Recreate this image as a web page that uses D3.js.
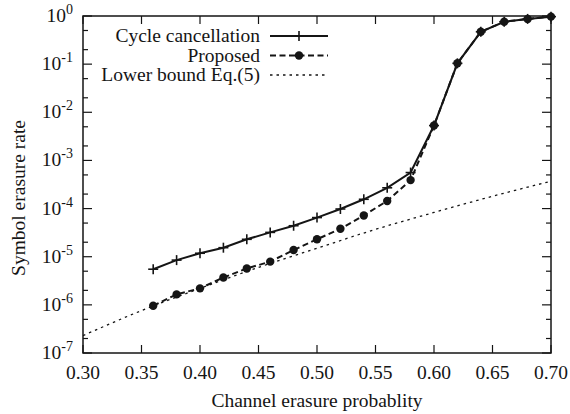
<!DOCTYPE html>
<html><head><meta charset="utf-8">
<script src="https://cdn.jsdelivr.net/npm/d3@7"></script>
<style>body{margin:0;background:#fff}svg{display:block}</style>
</head><body>
<svg id="c" width="570" height="414" font-family="'Liberation Serif', 'DejaVu Serif', serif"></svg>
<script>
const pCycle = [0.36,0.38,0.40,0.42,0.44,0.46,0.48,0.50,0.52,0.54,0.56,0.58,0.60,0.62,0.64,0.66,0.68,0.70];
const cycleVals = [5.5e-6,8.5e-6,1.18e-5,1.54e-5,2.3e-5,3.2e-5,4.4e-5,6.5e-5,9.8e-5,1.56e-4,2.7e-4,5.6e-4,5.3e-3,0.104,0.47,0.76,0.87,0.97];
const pProposed = [0.36,0.38,0.40,0.42,0.44,0.46,0.48,0.50,0.52,0.54,0.56,0.58,0.60,0.62,0.64,0.66,0.68,0.70];
const proposedVals = [9.6e-7,1.65e-6,2.2e-6,3.7e-6,5.7e-6,7.9e-6,1.38e-5,2.3e-5,3.8e-5,7.2e-5,1.44e-4,3.9e-4,5.3e-3,0.104,0.47,0.76,0.87,0.97];
const pBound = [0.30,0.35,0.40,0.45,0.50,0.55,0.60,0.65,0.70];
const boundVals = [2.3e-7,7.6e-7,2.2e-6,6.0e-6,1.5e-5,3.7e-5,8.3e-5,1.8e-4,3.7e-4];
const xTicks = [0.30,0.35,0.40,0.45,0.50,0.55,0.60,0.65,0.70];
const yExps = [0,-1,-2,-3,-4,-5,-6,-7];
const legendLabels = ["Cycle cancellation","Proposed","Lower bound Eq.(5)"];

const svg = d3.select("#c");
const L=83, R=551, T=16, B=353;
const x = d3.scaleLinear().domain([0.30,0.70]).range([L,R]);
const y = d3.scaleLog().domain([1e-7,1]).range([B,T]);
const ink = "#151515";
const FS = 19.5;

// ticks
const g = svg.append("g").attr("stroke",ink).attr("stroke-width",1.2);
xTicks.forEach(v=>{
  g.append("line").attr("x1",x(v)).attr("x2",x(v)).attr("y1",B).attr("y2",B-8);
  g.append("line").attr("x1",x(v)).attr("x2",x(v)).attr("y1",T).attr("y2",T+8);
});
yExps.forEach(e=>{
  const v=Math.pow(10,e);
  g.append("line").attr("x1",L).attr("x2",L+9).attr("y1",y(v)).attr("y2",y(v));
  g.append("line").attr("x1",R).attr("x2",R-9).attr("y1",y(v)).attr("y2",y(v));
  if(e<0){[2,5].forEach(m=>{
    const mv=m*v;
    g.append("line").attr("x1",L).attr("x2",L+5).attr("y1",y(mv)).attr("y2",y(mv));
    g.append("line").attr("x1",R).attr("x2",R-5).attr("y1",y(mv)).attr("y2",y(mv));
  });}
});

// tick labels
xTicks.forEach(v=>{
  svg.append("text").attr("x",x(v)).attr("y",379).attr("text-anchor","middle").attr("fill",ink)
    .attr("font-size",FS).text(v.toFixed(2));
});
yExps.forEach(e=>{
  const t=svg.append("text").attr("x",73).attr("y",y(Math.pow(10,e))+6).attr("text-anchor","end").attr("font-size",FS).attr("fill",ink);
  t.append("tspan").text("10");
  t.append("tspan").attr("font-size",14).attr("dy",-8).text(e===0?"0":"-"+(-e));
});

// axis titles
svg.append("text").attr("x",317).attr("y",407).attr("text-anchor","middle").attr("font-size",FS).attr("fill",ink).text("Channel erasure probablity");
svg.append("text").attr("transform","translate(25,198) rotate(-90)").attr("text-anchor","middle").attr("font-size",FS).attr("fill",ink).text("Symbol erasure rate");

// lines
const line = d3.line().x(d=>x(d[0])).y(d=>y(d[1]));
const boundData = pBound.map((p,i)=>[p,boundVals[i]]);
const propData = pProposed.map((p,i)=>[p,proposedVals[i]]);
const cycData = pCycle.map((p,i)=>[p,cycleVals[i]]);

svg.append("path").attr("d",line.curve(d3.curveMonotoneX)(boundData)).attr("fill","none").attr("stroke",ink).attr("stroke-width",1.3).attr("stroke-dasharray","2.5,4");
line.curve(d3.curveLinear);
svg.append("path").attr("d",line(propData)).attr("fill","none").attr("stroke",ink).attr("stroke-width",2).attr("stroke-dasharray","6,3.5");
svg.append("path").attr("d",line(cycData)).attr("fill","none").attr("stroke",ink).attr("stroke-width",2);

function cross(sel,cx,cy){
  sel.append("line").attr("x1",cx-5).attr("x2",cx+5).attr("y1",cy).attr("y2",cy).attr("stroke",ink).attr("stroke-width",1.6);
  sel.append("line").attr("x1",cx).attr("x2",cx).attr("y1",cy-5).attr("y2",cy+5).attr("stroke",ink).attr("stroke-width",1.6);
}
cycData.forEach(d=>cross(svg,x(d[0]),y(d[1])));
svg.selectAll("circle.p").data(propData).join("circle").attr("class","p")
  .attr("cx",d=>x(d[0])).attr("cy",d=>y(d[1])).attr("r",4.2).attr("fill",ink);

// frame
svg.append("rect").attr("x",L).attr("y",T).attr("width",R-L).attr("height",B-T).attr("fill","none").attr("stroke",ink).attr("stroke-width",1.5);

// legend
const rows=[36,55.5,75];
legendLabels.forEach((lab,i)=>{
  svg.append("text").attr("x",260).attr("y",rows[i]+6).attr("text-anchor","end").attr("font-size",FS).attr("fill",ink).text(lab);
});
svg.append("line").attr("x1",270).attr("x2",328).attr("y1",rows[0]).attr("y2",rows[0]).attr("stroke",ink).attr("stroke-width",2);
cross(svg,299,rows[0]);
svg.append("line").attr("x1",270).attr("x2",328).attr("y1",rows[1]).attr("y2",rows[1]).attr("stroke",ink).attr("stroke-width",2).attr("stroke-dasharray","6,3.5");
svg.append("circle").attr("cx",299).attr("cy",rows[1]).attr("r",4.2).attr("fill",ink);
svg.append("line").attr("x1",270).attr("x2",328).attr("y1",rows[2]).attr("y2",rows[2]).attr("stroke",ink).attr("stroke-width",1.3).attr("stroke-dasharray","2.5,4");
</script>
</body></html>
